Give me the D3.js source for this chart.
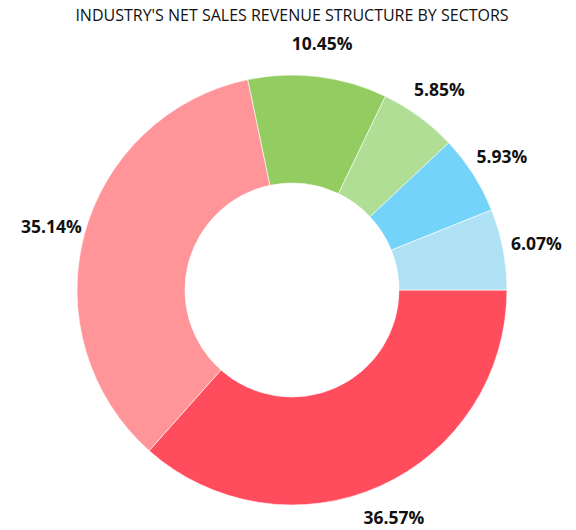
<!DOCTYPE html>
<html>
<head>
<meta charset="utf-8">
<script src="https://cdn.jsdelivr.net/npm/d3@7"></script>
<style>
  body { margin: 0; background: #fff; }
  text { font-family: "Open Sans", "Noto Sans", sans-serif; }
</style>
</head>
<body>
<svg id="chart" width="576" height="530" viewBox="0 0 576 530"></svg>
<script>
// sectors, in drawing order (clockwise from 3 o'clock)
const sectors = ["s1", "s2", "s3", "s4", "s5", "s6"]
const shares = [36.57, 35.14, 10.45, 5.85, 5.93, 6.07]
const labels = ["36.57%", "35.14%", "10.45%", "5.85%", "5.93%", "6.07%"]
const colors = ["#FF4D5E", "#FF9599", "#93CD62", "#B1DE95", "#73D3F8", "#AEE1F3"]

let svg = d3.select("#chart")
let cx = 292, cy = 290
let outer = 215, inner = 107

svg.append("text")
    .attr("x", 292)
    .attr("y", 21)
    .attr("text-anchor", "middle")
    .attr("font-size", 16)
    .attr("fill", "#111")
    .text("INDUSTRY'S NET SALES REVENUE STRUCTURE BY SECTORS")

let data = sectors.map((s, i) => ({ name: s, value: shares[i], label: labels[i], color: colors[i] }))

let pie = d3.pie()
    .sort(null)
    .value(d => d.value)
    .startAngle(Math.PI / 2)
    .endAngle(Math.PI / 2 + 2 * Math.PI)

let arc = d3.arc().innerRadius(inner).outerRadius(outer)
let labelArc = d3.arc().innerRadius(249).outerRadius(249)

let g = svg.append("g").attr("transform", `translate(${cx},${cy})`)

g.selectAll("path")
    .data(pie(data))
    .enter()
    .append("path")
    .attr("d", arc)
    .attr("fill", d => d.data.color)
    .attr("stroke", "#fff")
    .attr("stroke-width", 0.6)

g.selectAll(".lbl")
    .data(pie(data))
    .enter()
    .append("text")
    .attr("class", "lbl")
    .attr("transform", d => `translate(${labelArc.centroid(d)})`)
    .attr("text-anchor", "middle")
    .attr("dominant-baseline", "central")
    .attr("font-size", 17.5)
    .attr("font-weight", "bold")
    .attr("fill", "#111")
    .text(d => d.data.label)
</script>
</body>
</html>
